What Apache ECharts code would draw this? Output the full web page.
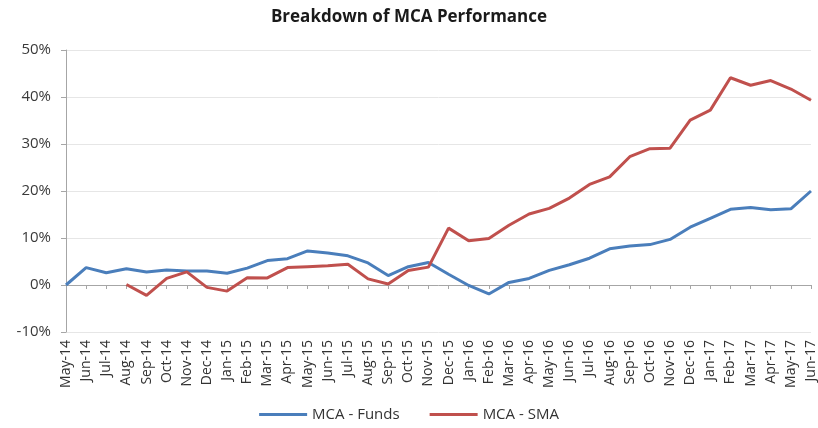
<!DOCTYPE html>
<html><head><meta charset="utf-8">
<script src="https://cdn.jsdelivr.net/npm/echarts@6/dist/echarts.min.js"></script>
<style>html,body{margin:0;padding:0;background:#fff}#c{width:818px;height:428px}</style>
</head><body><div id="c"></div>
<script>
const categories = ["May-14","Jun-14","Jul-14","Aug-14","Sep-14","Oct-14","Nov-14","Dec-14","Jan-15","Feb-15","Mar-15","Apr-15","May-15","Jun-15","Jul-15","Aug-15","Sep-15","Oct-15","Nov-15","Dec-15","Jan-16","Feb-16","Mar-16","Apr-16","May-16","Jun-16","Jul-16","Aug-16","Sep-16","Oct-16","Nov-16","Dec-16","Jan-17","Feb-17","Mar-17","Apr-17","May-17","Jun-17"];
const fundsValues = [0,3.7,2.6,3.45,2.75,3.2,3.0,3.0,2.5,3.6,5.2,5.6,7.25,6.8,6.2,4.7,2.0,3.9,4.8,2.3,-0.1,-1.9,0.55,1.4,3.1,4.3,5.7,7.7,8.3,8.6,9.7,12.3,14.2,16.1,16.5,16.0,16.2,20.0];
const smaValues = [null,null,null,0.1,-2.2,1.4,2.8,-0.5,-1.3,1.55,1.5,3.7,3.9,4.1,4.4,1.3,0.2,3.1,3.8,12.1,9.4,9.9,12.7,15.1,16.3,18.5,21.4,23.0,27.3,29.0,29.1,35.1,37.2,44.1,42.5,43.5,41.7,39.3];
const yTicks = {min:-10, max:50, interval:10};
const seriesNames = ["MCA - Funds","MCA - SMA"];

const font = "Open Sans";
const chart = echarts.init(document.getElementById('c'), null, {renderer:'canvas'});
chart.setOption({
  animation:false,
  backgroundColor:'#fff',
  title:{text:'Breakdown of MCA Performance', left:'center', top:4,
    textStyle:{fontFamily:font, fontSize:17, fontWeight:'bold', color:'#1a1a1a'}},
  legend:{top:402, left:'center', itemWidth:48, itemHeight:3, itemGap:30,
    icon:'rect',
    textStyle:{fontFamily:font, fontSize:15, color:'#333'},
    data:seriesNames},
  grid:{left:66, right:4, top:50, bottom:96, containLabel:false},
  xAxis:[{
    type:'category', data:categories, boundaryGap:false, position:'bottom',
    axisLine:{show:false, onZero:false}, axisTick:{show:false},
    axisLabel:{rotate:90, interval:0, fontFamily:font, fontSize:14, color:'#333', margin:8}
  },{
    type:'category', data:categories, boundaryGap:false, position:'bottom',
    axisLine:{show:true, onZero:true, lineStyle:{color:'#a6a6a6', width:1}},
    axisTick:{show:true, interval:0, length:4, inside:false, lineStyle:{color:'#a6a6a6'}},
    axisLabel:{show:false}
  }],
  yAxis:{
    type:'value', min:yTicks.min, max:yTicks.max, interval:yTicks.interval,
    axisLine:{show:true, lineStyle:{color:'#a6a6a6'}},
    axisTick:{show:true, length:5, lineStyle:{color:'#a6a6a6'}},
    axisLabel:{formatter:v=>v+'%', fontFamily:font, fontSize:15, color:'#3a3a3a', margin:15},
    splitLine:{lineStyle:{color:'#e6e6e6'}}
  },
  series:[
    {name:seriesNames[0], type:'line', data:fundsValues, xAxisIndex:0, symbol:'none',
     lineStyle:{color:'#4a7ebb', width:3}, itemStyle:{color:'#4a7ebb'}, z:3},
    {name:seriesNames[1], type:'line', data:smaValues, xAxisIndex:0, symbol:'none',
     lineStyle:{color:'#c0504d', width:3}, itemStyle:{color:'#c0504d'}, z:4}
  ]
});
</script></body></html>
